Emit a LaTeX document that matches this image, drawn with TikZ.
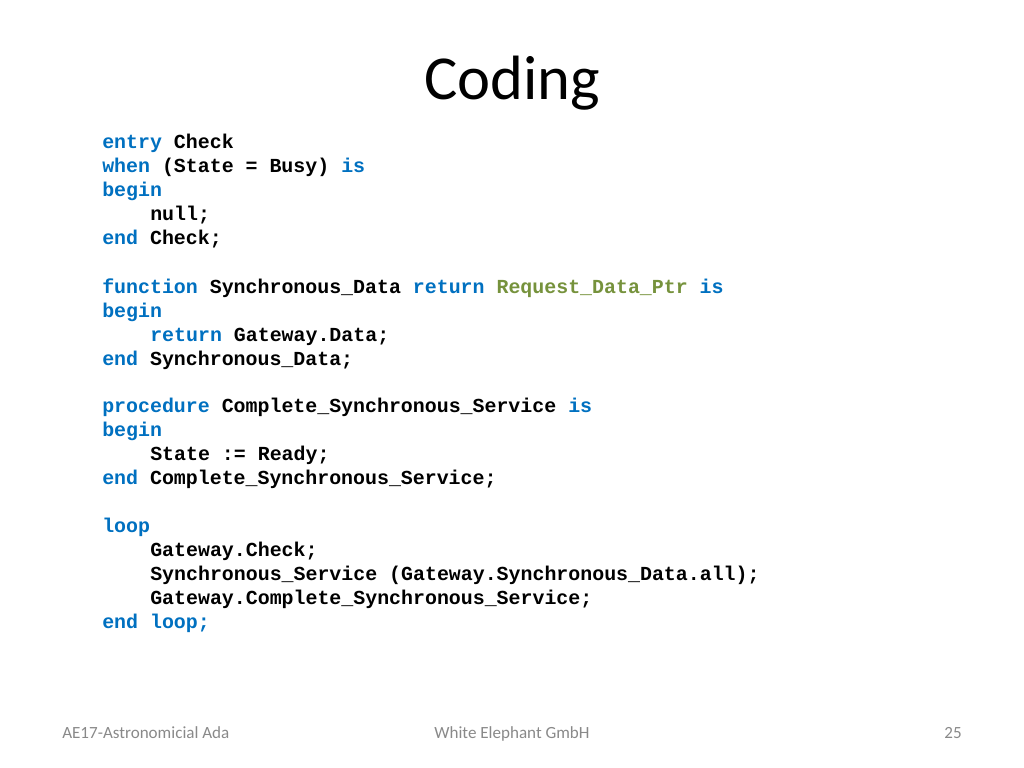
\documentclass[tikz,border=0pt]{standalone}
\usepackage{fontspec}
\setmainfont{Carlito}
\newfontfamily\codefont{Liberation Mono}
\definecolor{kw}{HTML}{0070C0}
\definecolor{ty}{HTML}{76923C}
\definecolor{foot}{HTML}{898989}
\newcommand{\K}[1]{\textcolor{kw}{#1}}
\newcommand{\T}[1]{\textcolor{ty}{#1}}
\begin{document}
\begin{tikzpicture}[x=0.703125pt,y=-0.703125pt,
  code/.style={anchor=base west,inner sep=0pt,font=\codefont\bfseries\fontsize{14pt}{16pt}\selectfont},
  foot/.style={inner sep=0pt,anchor=base,text=foot,font=\fontsize{12pt}{14pt}\selectfont}]
\useasboundingbox (0,0) rectangle (1024,768);
\node[inner sep=0pt,anchor=base,font=\fontsize{44pt}{50pt}\selectfont] (title) at (512,100) {Coding};
\node[code] (l1) at (102,149) {\K{entry} Check};
\node[code] (l2) at (102,173) {\K{when} (State = Busy) \K{is}};
\node[code] (l3) at (102,197) {\K{begin}};
\node[code] (l4) at (150,221) {null;};
\node[code] (l5) at (102,245) {\K{end} Check;};
\node[code] (l6) at (102,293) {\K{function} Synchronous\_Data \K{return} \T{Request\_Data\_Ptr} \K{is}};
\node[code] (l7) at (102,317) {\K{begin}};
\node[code] (l8) at (150,341) {\K{return} Gateway.Data;};
\node[code] (l9) at (102,365) {\K{end} Synchronous\_Data;};
\node[code] (l10) at (102,412) {\K{procedure} Complete\_Synchronous\_Service \K{is}};
\node[code] (l11) at (102,436) {\K{begin}};
\node[code] (l12) at (150,460) {State := Ready;};
\node[code] (l13) at (102,484) {\K{end} Complete\_Synchronous\_Service;};
\node[code] (l14) at (102,532) {\K{loop}};
\node[code] (l15) at (150,556) {Gateway.Check;};
\node[code] (l16) at (150,580) {Synchronous\_Service (Gateway.Synchronous\_Data.all);};
\node[code] (l17) at (150,604) {Gateway.Complete\_Synchronous\_Service;};
\node[code] (l18) at (102,628) {\K{end loop;}};
\node[foot,anchor=base west] (f1) at (62,738) {AE17-Astronomicial Ada};
\node[foot] (f2) at (512,738) {White Elephant GmbH};
\node[foot,anchor=base east] (f3) at (962,738) {25};
\end{tikzpicture}
\end{document}
